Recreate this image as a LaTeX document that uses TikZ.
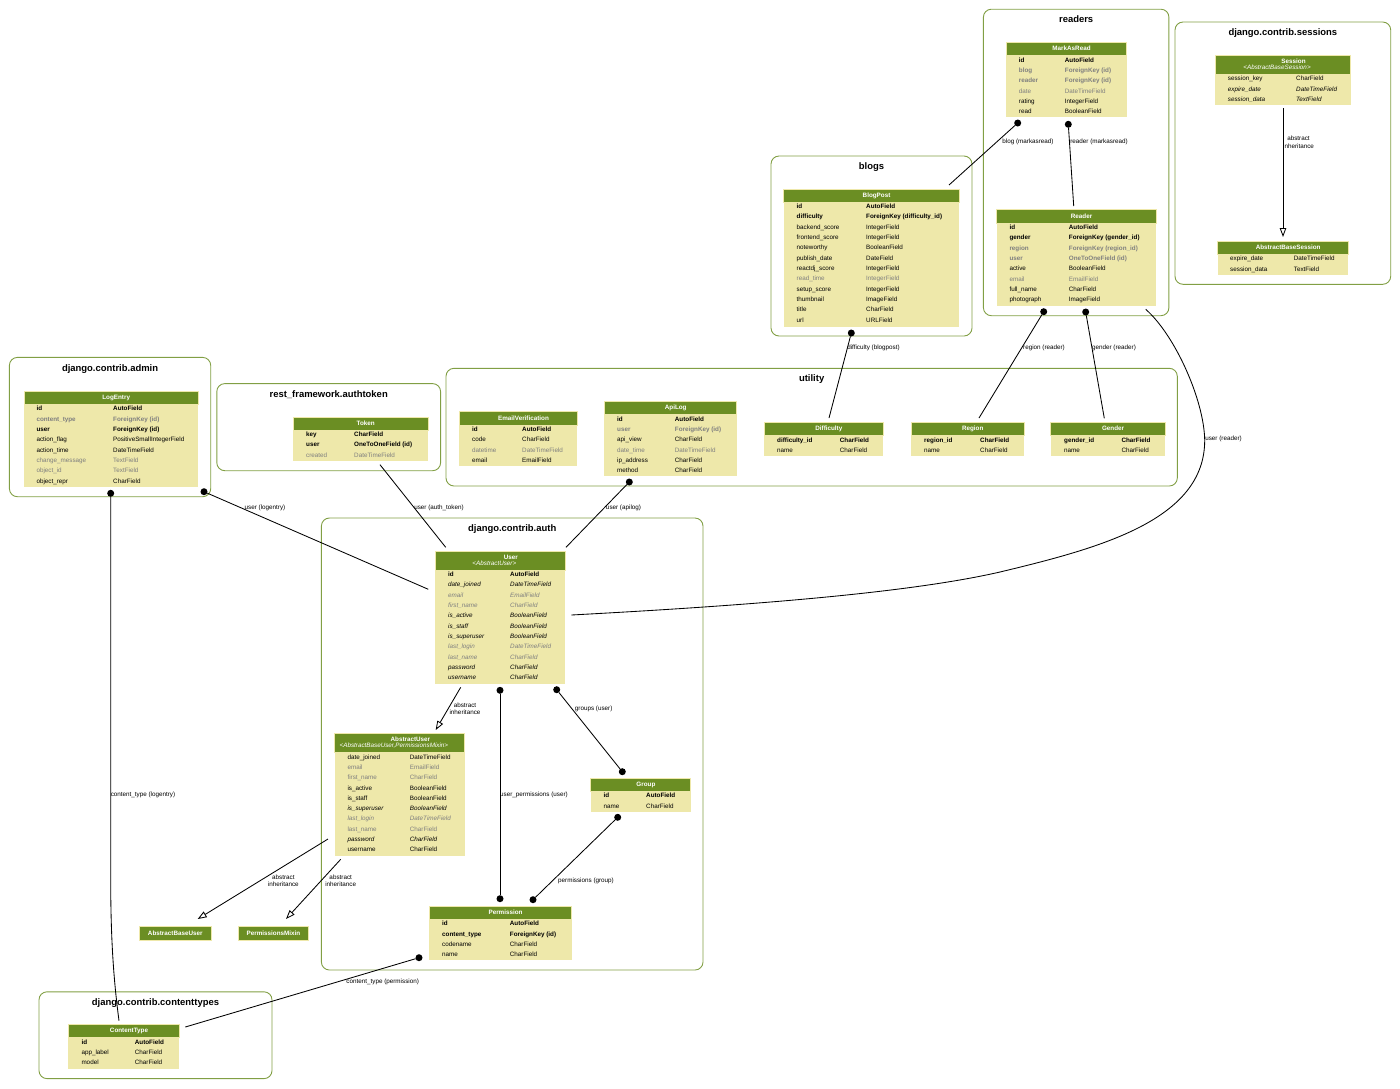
\documentclass[tikz,border=0pt]{standalone}
\usepackage{fontspec}
\setmainfont{Liberation Sans}
\usepackage{xcolor}
\usepackage{tikz}
\usetikzlibrary{arrows.meta}
\definecolor{oliveDrab}{HTML}{6B8E23}
\definecolor{paleGold}{HTML}{EEE8AA}
\definecolor{fieldGray}{HTML}{7F7F7F}
\tikzstyle{clusterNode} = [rectangle, draw=oliveDrab!85, line width=0.9pt, rounded corners=8pt, anchor=north west, inner sep=0pt, outer sep=0pt]
\tikzstyle{clusterTitle} = [font=\fontsize{9.45}{12}\selectfont\bfseries, text height=7.2pt, text depth=2pt, inner sep=0pt]
\tikzstyle{headNode} = [rectangle, fill=oliveDrab, draw=paleGold, line width=0.5pt, anchor=north west, inner sep=0pt, outer sep=0pt]
\tikzstyle{bodyNode} = [rectangle, fill=paleGold, anchor=north west, inner sep=0pt, outer sep=0pt]
\tikzstyle{headText} = [font=\fontsize{6.3}{7}\selectfont\bfseries, text=white, text height=4.5pt, text depth=1.3pt, inner sep=0pt]
\tikzstyle{headSub} = [font=\fontsize{6.3}{7}\selectfont\itshape, text=white, text height=4.5pt, text depth=1.3pt, inner sep=0pt]
\tikzstyle{fieldPlain} = [font=\fontsize{6.3}{7}\selectfont, anchor=base west, inner sep=0pt]
\tikzstyle{fieldKey} = [fieldPlain, font=\fontsize{6.3}{7}\selectfont\bfseries]
\tikzstyle{fieldDim} = [fieldPlain, text=fieldGray]
\tikzstyle{fieldDimKey} = [fieldKey, text=fieldGray]
\tikzstyle{fieldIt} = [fieldPlain, font=\fontsize{6.3}{7}\selectfont\itshape]
\tikzstyle{fieldDimIt} = [fieldIt, text=fieldGray]
\tikzstyle{edgeLabel} = [font=\fontsize{6.3}{7.3}\selectfont, align=center, inner sep=0pt, yshift=-0.5pt]
\tikzstyle{dotNode} = [circle, fill=black, minimum size=7pt, inner sep=0pt, outer sep=0pt]
\tikzstyle{relArrow} = [line width=0.85pt]
\tikzstyle{inheritArrow} = [line width=0.85pt, -{Triangle[open, fill=white, length=9pt, width=6.5pt]}]
\newcommand{\clusterBox}[6]{
    \node (cluster#1) [clusterNode, minimum width=#4pt, minimum height=#5pt] at (#2,#3) {};
    \node (title#1) [clusterTitle] at ([yshift=-11pt]cluster#1.north) {#6};
}
\newcommand{\tableBox}[6]{
    \node (#1Head) [headNode, minimum width=#4pt, minimum height=#5pt] at (#2,#3) {};
    \node (#1) [bodyNode, minimum width=#4pt, minimum height=#6pt] at (#1Head.south west) {};
}
\newcommand{\headTitle}[2]{
    \node (#1Title) [headText] at ([xshift=5.2pt,yshift=-0.2pt]#1Head.center) {#2};
}
\newcommand{\headPair}[3]{
    \node (#1Title) [headText] at ([xshift=10.7pt,yshift=3pt]#1Head.center) {#2};
    \node (#1Sub) [headSub] at ([xshift=-5.8pt,yshift=-3.4pt]#1Head.center) {<#3>};
}
\newcommand{\fieldRows}[5]{
    \foreach \fieldStyle/\fieldName/\fieldType [count=\rowNum, evaluate=\rowNum as \rowY using #4+(\rowNum-1)*10.33+2.6] in {#5} {
        \node (#1Name\rowNum) [\fieldStyle] at (#2,\rowY) {\fieldName};
        \node (#1Type\rowNum) [\fieldStyle] at (#3,\rowY) {\fieldType};
    }
}
\begin{document}
\begin{tikzpicture}[x=1pt, y=-1pt]
    \useasboundingbox (0,0) rectangle (1400,1088);
    \clusterBox{Readers}{983.4}{9.2}{185.5}{306.5}{readers}
    \clusterBox{Sessions}{1175}{22}{215.7}{262.3}{django.contrib.sessions}
    \clusterBox{Blogs}{771}{156}{201}{180}{blogs}
    \clusterBox{Utility}{446}{368.3}{731.3}{117.7}{utility}
    \clusterBox{Admin}{9.4}{357.4}{201.3}{139.3}{django.contrib.admin}
    \clusterBox{Authtoken}{216.8}{383.6}{223.8}{87.1}{rest\_framework.authtoken}
    \clusterBox{Auth}{321.4}{518}{381.6}{452}{django.contrib.auth}
    \clusterBox{Contenttypes}{39}{991.8}{233}{86.8}{django.contrib.contenttypes}

    \tableBox{MarkAsRead}{1006}{42.3}{120.7}{13.4}{61.6}
    \headTitle{MarkAsRead}{MarkAsRead}
    \fieldRows{MarkAsRead}{1018.7}{1064.7}{59.5}{
        fieldKey/id/AutoField,
        fieldDimKey/blog/ForeignKey (id),
        fieldDimKey/reader/ForeignKey (id),
        fieldDim/date/DateTimeField,
        fieldPlain/rating/IntegerField,
        fieldPlain/read/BooleanField}

    \tableBox{Reader}{996.7}{209.7}{159.3}{13.3}{82.7}
    \headTitle{Reader}{Reader}
    \fieldRows{Reader}{1009.3}{1068.7}{227}{
        fieldKey/id/AutoField,
        fieldKey/gender/ForeignKey (gender\_id),
        fieldDimKey/region/ForeignKey (region\_id),
        fieldDimKey/user/OneToOneField (id),
        fieldPlain/active/BooleanField,
        fieldDim/email/EmailField,
        fieldPlain/full\_name/CharField,
        fieldPlain/photograph/ImageField}

    \tableBox{Session}{1215}{55}{135.7}{19}{30.7}
    \headPair{Session}{Session}{AbstractBaseSession}
    \fieldRows{Session}{1227.7}{1296}{78.2}{
        fieldPlain/session\_key/CharField,
        fieldIt/expire\_date/DateTimeField,
        fieldIt/session\_data/TextField}

    \tableBox{AbstractBaseSession}{1217.7}{241}{130.6}{13.3}{20.4}
    \headTitle{AbstractBaseSession}{AbstractBaseSession}
    \fieldRows{AbstractBaseSession}{1230}{1293.7}{258.2}{
        fieldPlain/expire\_date/DateTimeField,
        fieldPlain/session\_data/TextField}

    \tableBox{BlogPost}{783.7}{189}{175.3}{13.4}{124.6}
    \headTitle{BlogPost}{BlogPost}
    \fieldRows{BlogPost}{796.5}{866}{206}{
        fieldKey/id/AutoField,
        fieldKey/difficulty/ForeignKey (difficulty\_id),
        fieldPlain/backend\_score/IntegerField,
        fieldPlain/frontend\_score/IntegerField,
        fieldPlain/noteworthy/BooleanField,
        fieldPlain/publish\_date/DateField,
        fieldPlain/reactdj\_score/IntegerField,
        fieldDim/read\_time/IntegerField,
        fieldPlain/setup\_score/IntegerField,
        fieldPlain/thumbnail/ImageField,
        fieldPlain/title/CharField,
        fieldPlain/url/URLField}

    \tableBox{EmailVerification}{459.3}{411.7}{118}{13.3}{40.7}
    \headTitle{EmailVerification}{EmailVerification}
    \fieldRows{EmailVerification}{472}{522}{429}{
        fieldKey/id/AutoField,
        fieldPlain/code/CharField,
        fieldDim/datetime/DateTimeField,
        fieldPlain/email/EmailField}

    \tableBox{ApiLog}{604.3}{401.3}{132.4}{13.4}{61.6}
    \headTitle{ApiLog}{ApiLog}
    \fieldRows{ApiLog}{617}{674.7}{418.7}{
        fieldKey/id/AutoField,
        fieldDimKey/user/ForeignKey (id),
        fieldPlain/api\_view/CharField,
        fieldDim/date\_time/DateTimeField,
        fieldPlain/ip\_address/CharField,
        fieldPlain/method/CharField}

    \tableBox{Difficulty}{764}{422.3}{119.3}{13.4}{20}
    \headTitle{Difficulty}{Difficulty}
    \fieldRows{Difficulty}{777}{839.7}{439.6}{
        fieldKey/difficulty\_id/CharField,
        fieldPlain/name/CharField}

    \tableBox{Region}{911}{422.3}{113}{13.4}{20}
    \headTitle{Region}{Region}
    \fieldRows{Region}{924}{980}{439.6}{
        fieldKey/region\_id/CharField,
        fieldPlain/name/CharField}

    \tableBox{Gender}{1050.7}{422.3}{114.3}{13.4}{20}
    \headTitle{Gender}{Gender}
    \fieldRows{Gender}{1064}{1121.3}{439.6}{
        fieldKey/gender\_id/CharField,
        fieldPlain/name/CharField}

    \tableBox{LogEntry}{24}{391}{174}{13}{82.7}
    \headTitle{LogEntry}{LogEntry}
    \fieldRows{LogEntry}{36.3}{113}{408.3}{
        fieldKey/id/AutoField,
        fieldDimKey/content\_type/ForeignKey (id),
        fieldKey/user/ForeignKey (id),
        fieldPlain/action\_flag/PositiveSmallIntegerField,
        fieldPlain/action\_time/DateTimeField,
        fieldDim/change\_message/TextField,
        fieldDim/object\_id/TextField,
        fieldPlain/object\_repr/CharField}

    \tableBox{Token}{293}{417}{135}{13.3}{30.7}
    \headTitle{Token}{Token}
    \fieldRows{Token}{306}{354}{434}{
        fieldKey/key/CharField,
        fieldKey/user/OneToOneField (id),
        fieldDim/created/DateTimeField}

    \tableBox{User}{435}{551}{130.3}{19}{113.7}
    \headPair{User}{User}{AbstractUser}
    \fieldRows{User}{448}{510}{573.8}{
        fieldKey/id/AutoField,
        fieldIt/date\_joined/DateTimeField,
        fieldDimIt/email/EmailField,
        fieldDimIt/first\_name/CharField,
        fieldIt/is\_active/BooleanField,
        fieldIt/is\_staff/BooleanField,
        fieldIt/is\_superuser/BooleanField,
        fieldDimIt/last\_login/DateTimeField,
        fieldDimIt/last\_name/CharField,
        fieldIt/password/CharField,
        fieldIt/username/CharField}

    \tableBox{AbstractUser}{334.7}{733.3}{130}{19}{103.7}
    \headPair{AbstractUser}{AbstractUser}{AbstractBaseUser,PermissionsMixin}
    \fieldRows{AbstractUser}{347.3}{409.7}{756.4}{
        fieldPlain/date\_joined/DateTimeField,
        fieldDim/email/EmailField,
        fieldDim/first\_name/CharField,
        fieldPlain/is\_active/BooleanField,
        fieldPlain/is\_staff/BooleanField,
        fieldIt/is\_superuser/BooleanField,
        fieldDimIt/last\_login/DateTimeField,
        fieldDim/last\_name/CharField,
        fieldIt/password/CharField,
        fieldPlain/username/CharField}

    \tableBox{Group}{590.7}{778}{100}{13.6}{20}
    \headTitle{Group}{Group}
    \fieldRows{Group}{603.5}{646}{795.2}{
        fieldKey/id/AutoField,
        fieldPlain/name/CharField}

    \tableBox{Permission}{429}{906}{142.7}{13.4}{41}
    \headTitle{Permission}{Permission}
    \fieldRows{Permission}{442}{509.7}{923.3}{
        fieldKey/id/AutoField,
        fieldKey/content\_type/ForeignKey (id),
        fieldPlain/codename/CharField,
        fieldPlain/name/CharField}

    \tableBox{ContentType}{68.3}{1024.3}{111}{13.4}{31}
    \headTitle{ContentType}{ContentType}
    \fieldRows{ContentType}{81.3}{134.7}{1041.7}{
        fieldKey/id/AutoField,
        fieldPlain/app\_label/CharField,
        fieldPlain/model/CharField}

    \node (AbstractBaseUser) [headNode, headText, minimum width=72pt, minimum height=13.6pt] at (139.3,926.7) {AbstractBaseUser};
    \node (PermissionsMixin) [headNode, headText, minimum width=70.4pt, minimum height=13.6pt] at (238.3,926.7) {PermissionsMixin};

    \node (dotMarkBlog) [dotNode] at (1017.7,123) {};
    \node (dotMarkReader) [dotNode] at (1068.3,124.3) {};
    \node (dotDifficulty) [dotNode] at (851.3,333) {};
    \node (dotRegion) [dotNode] at (1043.7,311.7) {};
    \node (dotGender) [dotNode] at (1085.7,312) {};
    \node (dotLogUser) [dotNode] at (204,491.7) {};
    \node (dotLogType) [dotNode] at (110.7,493.3) {};
    \node (dotApiLog) [dotNode] at (629.3,482) {};
    \node (dotUserPerm) [dotNode] at (500,690.3) {};
    \node (dotPermUser) [dotNode] at (500,898.7) {};
    \node (dotUserGroup) [dotNode] at (556.7,689.7) {};
    \node (dotGroupUser) [dotNode] at (622.3,771.7) {};
    \node (dotGroupPerm) [dotNode] at (617.7,817.3) {};
    \node (dotPermGroup) [dotNode] at (533,899.7) {};
    \node (dotPermType) [dotNode] at (419,957.7) {};

    \coordinate (blogPostEnd) at (949,185);
    \coordinate (readerTop) at (1073.7,206);
    \coordinate (difficultyTop) at (829,418);
    \coordinate (regionTop) at (979,418);
    \coordinate (genderTop) at (1104.3,418.3);
    \coordinate (readerOut) at (1145.7,309.3);
    \coordinate (userRight) at (571.3,615);
    \coordinate (userLeft) at (428.3,589.3);
    \coordinate (userTopLeft) at (445.7,547.3);
    \coordinate (userTopRight) at (566,547.3);
    \coordinate (tokenBottom) at (380,464.7);
    \coordinate (userBottom) at (460.7,687.3);
    \coordinate (abstractTop) at (435.7,730);
    \coordinate (abstractLeft) at (328,839);
    \coordinate (abstractLow) at (340.7,859.3);
    \coordinate (baseUserTop) at (197.7,919);
    \coordinate (mixinTop) at (286,919);
    \coordinate (sessionBottom) at (1283,108);
    \coordinate (baseSessionTop) at (1283,237);
    \coordinate (typeTop) at (119,1020.7);
    \coordinate (typeRight) at (185.3,1027);

    \draw [relArrow] (dotMarkBlog) -- (blogPostEnd) node (lblMarkBlog) [edgeLabel] at (1028,141.5) {blog (markasread)};
    \draw [relArrow] (dotMarkReader) -- (readerTop) node (lblMarkReader) [edgeLabel] at (1099,141.5) {reader (markasread)};
    \draw [relArrow] (dotDifficulty) -- (difficultyTop) node (lblDifficulty) [edgeLabel] at (873.5,347.3) {difficulty (blogpost)};
    \draw [relArrow] (dotRegion) -- (regionTop) node (lblRegion) [edgeLabel] at (1044,347.3) {region (reader)};
    \draw [relArrow] (dotGender) -- (genderTop) node (lblGender) [edgeLabel] at (1114,347.3) {gender (reader)};
    \draw [relArrow] (readerOut) .. controls (1175,335) and (1204,400) .. (1204.7,440) .. controls (1205,520) and (1100,548) .. (1000,572) .. controls (900,595) and (720,607) .. (userRight) node (lblUserReader) [edgeLabel] at (1223.5,438.3) {user (reader)};
    \draw [relArrow] (dotLogUser) -- (userLeft) node (lblLogUser) [edgeLabel] at (265,507.5) {user (logentry)};
    \draw [relArrow] (tokenBottom) -- (userTopLeft) node (lblToken) [edgeLabel] at (439,507.5) {user (auth\_token)};
    \draw [relArrow] (dotApiLog) -- (userTopRight) node (lblApiLog) [edgeLabel] at (623.5,507.5) {user (apilog)};
    \draw [relArrow] (dotLogType) -- (110.7,880) .. controls (110.7,950) and (115,990) .. (typeTop) node (lblLogType) [edgeLabel] at (143,794) {content\_type (logentry)};
    \draw [relArrow] (dotUserPerm) -- (dotPermUser) node (lblUserPerm) [edgeLabel] at (534,794) {user\_permissions (user)};
    \draw [relArrow] (dotUserGroup) -- (dotGroupUser) node (lblUserGroup) [edgeLabel] at (593.7,708) {groups (user)};
    \draw [relArrow] (dotGroupPerm) -- (dotPermGroup) node (lblGroupPerm) [edgeLabel] at (586,880.3) {permissions (group)};
    \draw [relArrow] (dotPermType) -- (typeRight) node (lblPermType) [edgeLabel] at (382.7,981.3) {content\_type (permission)};
    \draw [inheritArrow] (sessionBottom) -- (baseSessionTop) node (lblSession) [edgeLabel] at (1298.5,141.7) {abstract\\inheritance};
    \draw [inheritArrow] (userBottom) -- (abstractTop) node (lblUserBase) [edgeLabel] at (465,708) {abstract\\inheritance};
    \draw [inheritArrow] (abstractLeft) -- (baseUserTop) node (lblBaseUser) [edgeLabel] at (283.3,880) {abstract\\inheritance};
    \draw [inheritArrow] (abstractLow) -- (mixinTop) node (lblMixin) [edgeLabel] at (340.7,880) {abstract\\inheritance};
\end{tikzpicture}
\end{document}
